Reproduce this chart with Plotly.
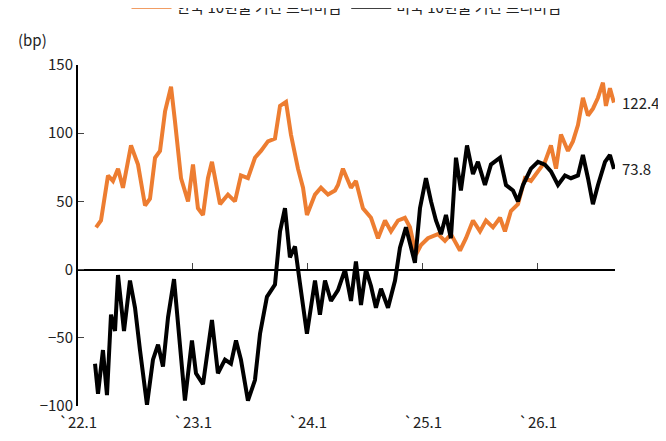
import plotly.graph_objects as go

kr_t = [2022.157,2022.200,2022.261,2022.304,2022.348,2022.391,2022.461,2022.522,2022.583,2022.626,2022.670,2022.713,2022.757,2022.809,2022.843,2022.896,2022.957,2023.0,2023.043,2023.087,2023.130,2023.165,2023.235,2023.304,2023.365,2023.417,2023.478,2023.539,2023.591,2023.652,2023.713,2023.757,2023.809,2023.852,2023.913,2023.957,2023.991,2024.061,2024.113,2024.174,2024.235,2024.261,2024.304,2024.374,2024.417,2024.478,2024.548,2024.609,2024.670,2024.722,2024.783,2024.843,2024.887,2024.939,2024.983,2025.043,2025.130,2025.191,2025.243,2025.322,2025.374,2025.435,2025.496,2025.548,2025.609,2025.670,2025.713,2025.765,2025.826,2025.887,2025.939,2026.0,2026.061,2026.113,2026.157,2026.2,2026.261,2026.304,2026.348,2026.391,2026.435,2026.478,2026.522,2026.565,2026.591,2026.626,2026.661]
kr_v = [31,36,69,65,74,60,91,77,47,52,82,87,116,134,109,67,50,77,45,40,67,79,48,55,50,69,67,82,87,94,96,120,123,99,74,60,40,55,60,55,58,62,74,60,65,45,38,23,36,28,36,38,31,11,18,23,26,21,26,14,23,36,28,36,31,38,28,43,48,67,65,72,79,91,74,99,87,94,106,126,113,118,126,137,120,133,122.4]

us_t = [2022.148,2022.174,2022.217,2022.252,2022.287,2022.322,2022.348,2022.400,2022.452,2022.496,2022.539,2022.600,2022.652,2022.696,2022.739,2022.783,2022.835,2022.870,2022.930,2022.991,2023.026,2023.087,2023.165,2023.217,2023.278,2023.330,2023.374,2023.417,2023.478,2023.539,2023.583,2023.643,2023.713,2023.757,2023.800,2023.843,2023.887,2023.930,2023.974,2023.991,2024.061,2024.104,2024.148,2024.200,2024.261,2024.322,2024.374,2024.417,2024.461,2024.504,2024.548,2024.591,2024.635,2024.696,2024.757,2024.800,2024.852,2024.896,2024.930,2024.974,2025.026,2025.070,2025.113,2025.157,2025.200,2025.243,2025.287,2025.330,2025.383,2025.435,2025.478,2025.539,2025.591,2025.670,2025.722,2025.783,2025.826,2025.870,2025.939,2026.0,2026.061,2026.113,2026.174,2026.235,2026.287,2026.348,2026.391,2026.435,2026.478,2026.522,2026.583,2026.626,2026.661]
us_v = [-69,-91,-59,-92,-33,-45,-4,-45,-8,-28,-59,-99,-66,-55,-71,-35,-7,-40,-96,-52,-76,-84,-37,-76,-66,-69,-52,-66,-96,-81,-47,-20,-11,28,45,9,17,-10,-37,-47,-8,-33,-8,-23,-15,0,-23,6,-26,0,-12,-28,-14,-28,-8,16,31,16,5,45,67,50,36,26,40,23,82,58,91,70,79,62,77,82,62,58,50,62,74,79,77,72,62,69,67,69,84,67,48,62,79,84,73.8]

tick_vals = [2022, 2023, 2024, 2025, 2026]
tick_text = ["`22.1", "`23.1", "`24.1", "`25.1", "`26.1"]
names = ["한국 10년물 기간 프리미엄", "미국 10년물 기간 프리미엄"]
ORANGE = "#ED7D31"
FONT = "Noto Sans CJK KR"
xr = [2022, 2026.67]

fig = go.Figure()
fig.add_trace(go.Scatter(x=kr_t, y=kr_v, mode="lines", name=names[0],
                         line=dict(color=ORANGE, width=4)))
fig.add_trace(go.Scatter(x=us_t, y=us_v, mode="lines", name=names[1],
                         line=dict(color="black", width=4)))
fig.add_trace(go.Scatter(x=[xr[0]], y=[0], xaxis="x2", mode="markers",
                         marker=dict(opacity=0), showlegend=False, hoverinfo="skip"))

for t, v in [(kr_t[-1], kr_v[-1]), (us_t[-1], us_v[-1])]:
    fig.add_annotation(x=t, y=v, text=f"{v}", showarrow=False, xanchor="left",
                       xshift=6, font=dict(size=15, color="#222", family=FONT))

fig.add_annotation(x=0, xref="paper", xanchor="left", y=1.0, yref="paper", yshift=38,
                   text="(bp)", showarrow=False, font=dict(size=15, color="#222", family=FONT),
                   xshift=-62)

fig.update_layout(
    width=666, height=441, paper_bgcolor="white", plot_bgcolor="white",
    margin=dict(l=70, r=59, t=57, b=43, autoexpand=False),
    font=dict(family=FONT, size=15, color="#222"),
    legend=dict(orientation="h", x=0.5, xanchor="center", y=1.17, yanchor="middle",
                font=dict(size=15), itemwidth=40),
    xaxis=dict(range=xr, tickvals=tick_vals, ticktext=tick_text, showline=False,
               showgrid=False, zeroline=False, ticks="", ticklabelstandoff=6,
               tickfont=dict(size=15)),
    xaxis2=dict(range=xr, overlaying="x", anchor="free", position=0.4, side="bottom",
                tickvals=tick_vals, showticklabels=False, ticks="inside", ticklen=6,
                showline=True, linecolor="black", linewidth=2, showgrid=False,
                zeroline=False),
    yaxis=dict(range=[-100, 150], tickvals=[-100, -50, 0, 50, 100, 150],
               showline=True, linecolor="black", linewidth=2, ticks="inside",
               ticklen=6, showgrid=False, zeroline=False, tickfont=dict(size=15)),
    showlegend=True,
)
fig.write_html("out.html")
